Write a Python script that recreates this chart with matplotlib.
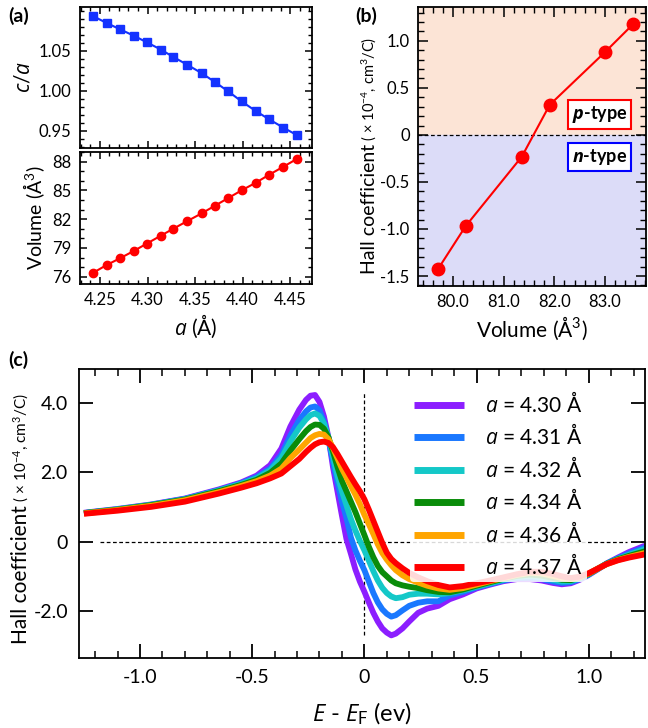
import numpy as np
import matplotlib
matplotlib.use("Agg")
import matplotlib.pyplot as plt
from matplotlib.ticker import MultipleLocator, FixedLocator

plt.rcParams['font.family'] = ['Lato', 'DejaVu Sans']
plt.rcParams['mathtext.fontset'] = 'custom'
plt.rcParams['mathtext.rm'] = 'Lato'
plt.rcParams['mathtext.it'] = 'Open Sans:italic'
plt.rcParams['mathtext.bf'] = 'Open Sans:italic:bold'
plt.rcParams['axes.linewidth'] = 1.3

# ---------------- data ----------------
a_vals = [4.243, 4.257, 4.271, 4.286, 4.299, 4.314, 4.327, 4.342,
          4.357, 4.371, 4.385, 4.399, 4.414, 4.428, 4.443, 4.457]
c_over_a = [1.0934, 1.0850, 1.0771, 1.0688, 1.0609, 1.0517, 1.0425, 1.0325,
            1.0221, 1.0109, 0.9992, 0.9867, 0.9746, 0.9642, 0.9538, 0.9446]
volume = [76.42, 77.22, 77.92, 78.71, 79.44, 80.28, 81.00, 81.81,
          82.61, 83.41, 84.21, 85.01, 85.81, 86.64, 87.48, 88.28]
volume_ticks = [76, 79, 82, 85, 88]

vol_b = [79.70, 80.25, 81.36, 81.91, 83.00, 83.56]
hall_b = [-1.43, -0.97, -0.23, 0.32, 0.88, 1.18]

energy = [-1.25, -1.1, -0.95, -0.8, -0.65, -0.55, -0.48, -0.42, -0.37, -0.33,
          -0.29, -0.26, -0.24, -0.22, -0.20, -0.18, -0.16, -0.14, -0.12, -0.10,
          -0.08, -0.06, -0.04, -0.02, 0.0, 0.02, 0.04, 0.06, 0.08, 0.10,
          0.12, 0.14, 0.17, 0.20, 0.24, 0.28, 0.33, 0.38, 0.44, 0.50,
          0.56, 0.62, 0.68, 0.74, 0.79, 0.84, 0.88, 0.92, 0.96, 1.00,
          1.04, 1.08, 1.13, 1.18, 1.25]

hall_430 = [0.83, 0.94, 1.07, 1.24, 1.50, 1.70, 1.90, 2.20, 2.68, 3.31,
            3.80, 4.08, 4.20, 4.22, 4.02, 3.60, 3.00, 2.15, 1.45, 0.75,
            0.08, -0.35, -0.80, -1.15, -1.44, -1.75, -2.05, -2.30, -2.50, -2.62,
            -2.70, -2.65, -2.50, -2.30, -2.05, -1.93, -1.85, -1.66, -1.52, -1.35,
            -1.24, -1.14, -1.08, -1.08, -1.12, -1.19, -1.23, -1.20, -1.10, -0.96,
            -0.80, -0.63, -0.46, -0.30, -0.12]
hall_431 = [0.82, 0.93, 1.06, 1.23, 1.48, 1.68, 1.86, 2.10, 2.50, 3.05,
            3.50, 3.75, 3.86, 3.89, 3.78, 3.45, 2.95, 2.30, 1.70, 1.15,
            0.68, 0.12, -0.25, -0.55, -0.82, -1.15, -1.48, -1.75, -1.95, -2.08,
            -2.16, -2.12, -1.98, -1.85, -1.76, -1.72, -1.72, -1.55, -1.45, -1.32,
            -1.22, -1.12, -1.05, -1.04, -1.08, -1.15, -1.19, -1.17, -1.08, -0.95,
            -0.79, -0.63, -0.48, -0.34, -0.17]
hall_432 = [0.82, 0.93, 1.06, 1.22, 1.47, 1.66, 1.82, 2.05, 2.40, 2.88,
            3.28, 3.52, 3.64, 3.69, 3.62, 3.40, 3.00, 2.45, 1.90, 1.45,
            1.05, 0.65, 0.32, 0.02, -0.25, -0.55, -0.85, -1.12, -1.33, -1.48,
            -1.58, -1.63, -1.60, -1.53, -1.50, -1.50, -1.52, -1.48, -1.40, -1.30,
            -1.20, -1.10, -1.02, -0.99, -1.03, -1.10, -1.15, -1.14, -1.06, -0.94,
            -0.79, -0.64, -0.50, -0.38, -0.22]
hall_434 = [0.82, 0.92, 1.05, 1.21, 1.45, 1.63, 1.78, 1.98, 2.25, 2.62,
            2.95, 3.18, 3.30, 3.37, 3.36, 3.25, 3.00, 2.60, 2.15, 1.75,
            1.45, 1.15, 0.85, 0.52, 0.19, -0.15, -0.45, -0.70, -0.88, -1.00,
            -1.12, -1.20, -1.26, -1.30, -1.34, -1.40, -1.45, -1.46, -1.38, -1.27,
            -1.17, -1.07, -0.99, -0.95, -0.98, -1.05, -1.10, -1.11, -1.04, -0.93,
            -0.78, -0.64, -0.51, -0.41, -0.28]
hall_436 = [0.81, 0.91, 1.03, 1.19, 1.42, 1.60, 1.74, 1.90, 2.10, 2.40,
            2.65, 2.85, 2.98, 3.06, 3.10, 3.08, 2.95, 2.70, 2.40, 2.10,
            1.85, 1.60, 1.35, 1.08, 0.77, 0.50, 0.22, -0.08, -0.33, -0.52,
            -0.68, -0.82, -0.97, -1.08, -1.18, -1.27, -1.35, -1.39, -1.34, -1.24,
            -1.14, -1.05, -0.96, -0.90, -0.92, -0.99, -1.05, -1.08, -1.03, -0.92,
            -0.78, -0.65, -0.53, -0.44, -0.33]
hall_437 = [0.80, 0.89, 1.00, 1.15, 1.38, 1.55, 1.68, 1.82, 1.96, 2.17,
            2.38, 2.58, 2.70, 2.80, 2.86, 2.88, 2.84, 2.72, 2.52, 2.30,
            2.08, 1.86, 1.65, 1.45, 1.22, 0.92, 0.60, 0.28, -0.04, -0.32,
            -0.50, -0.62, -0.77, -0.90, -1.03, -1.14, -1.25, -1.32, -1.28, -1.20,
            -1.12, -1.03, -0.94, -0.87, -0.87, -0.93, -1.00, -1.05, -1.01, -0.91,
            -0.78, -0.65, -0.54, -0.46, -0.37]

series_labels = ['4.30', '4.31', '4.32', '4.34', '4.36', '4.37']
series_colors = ['#8c1eff', '#1a78ff', '#14c8c8', '#0a8c0a', '#ffa500', '#ff0000']
series_data = [hall_430, hall_431, hall_432, hall_434, hall_436, hall_437]

# ---------------- figure ----------------
W, H = 648, 728
fig = plt.figure(figsize=(W / 100, H / 100), dpi=100)

def axes_px(l, t, r, b):
    return fig.add_axes([l / W, 1 - b / H, (r - l) / W, (b - t) / H])

def style(ax, major, minor):
    ax.tick_params(which='both', direction='in', top=True, right=True, labelsize=12)
    ax.tick_params(which='major', length=major, width=1.1, pad=6)
    ax.tick_params(which='minor', length=minor, width=1.0)

fmt = matplotlib.ticker.FormatStrFormatter
zero_fmt = matplotlib.ticker.FuncFormatter(lambda v, p: '0' if abs(v) < 1e-9 else '%.1f' % v)

# panel (a) top
ax1 = axes_px(80, 7, 312, 147.5)
ax1.plot(a_vals, c_over_a, '-', color='#1432ff', lw=1.5, marker='s', ms=6.2)
ax1.set_xlim(4.229, 4.473)
ax1.set_ylim(0.929, 1.105)
ax1.xaxis.set_major_locator(MultipleLocator(0.05))
ax1.xaxis.set_minor_locator(MultipleLocator(0.01))
ax1.yaxis.set_major_locator(FixedLocator([0.95, 1.00, 1.05]))
ax1.yaxis.set_minor_locator(MultipleLocator(0.01))
ax1.yaxis.set_major_formatter(fmt('%.2f'))
style(ax1, 5, 3)
ax1.tick_params(labelbottom=False)
ax1.set_ylabel(r'$c/a$', fontsize=15, labelpad=4)

# panel (a) bottom
ax2 = axes_px(80, 151.5, 312, 284)
ax2.plot(a_vals, volume, '-', color='#ff0000', lw=1.5, marker='o', ms=6)
ax2.set_xlim(4.229, 4.473)
ax2.set_ylim(75.24, 89.06)
ax2.xaxis.set_major_locator(MultipleLocator(0.05))
ax2.xaxis.set_minor_locator(MultipleLocator(0.01))
ax2.yaxis.set_major_locator(FixedLocator(volume_ticks))
ax2.yaxis.set_minor_locator(MultipleLocator(1))
ax2.xaxis.set_major_formatter(fmt('%.2f'))
style(ax2, 5, 3)
ax2.set_ylabel('Volume (Å$^{3}$)', fontsize=14, labelpad=4)
ax2.set_xlabel(r'$a$ (Å)', fontsize=15, labelpad=3)

# panel (b)
ax3 = axes_px(418, 7, 646, 286)
ax3.set_xlim(79.31, 83.81)
ax3.set_ylim(-1.606, 1.36)
ax3.axhspan(0, 1.36, color='#fce4d6', zorder=0)
ax3.axhspan(-1.606, 0, color='#dcdcf8', zorder=0)
ax3.axhline(0, color='black', lw=0.9, ls=(0, (3, 2)), zorder=1)
ax3.plot(vol_b, hall_b, '-', color='#ff0000', lw=1.5, marker='o', ms=9, zorder=3)
ax3.xaxis.set_major_locator(MultipleLocator(1.0))
ax3.xaxis.set_minor_locator(MultipleLocator(0.2))
ax3.yaxis.set_major_locator(MultipleLocator(0.5))
ax3.yaxis.set_minor_locator(MultipleLocator(0.1))
ax3.xaxis.set_major_formatter(fmt('%.1f'))
ax3.yaxis.set_major_formatter(zero_fmt)
style(ax3, 7, 4)
ax3.set_xlabel('Volume (Å$^{3}$)', fontsize=15, labelpad=3)
ax3.text(0.795, 0.616, r'$\mathbf{p}$-type', transform=ax3.transAxes, ha='center', va='center',
         fontsize=13, fontweight='bold',
         bbox=dict(boxstyle='square,pad=0.22', fc='white', ec='#ff0000', lw=1.5), zorder=5)
ax3.text(0.795, 0.462, r'$\mathbf{n}$-type', transform=ax3.transAxes, ha='center', va='center',
         fontsize=13, fontweight='bold',
         bbox=dict(boxstyle='square,pad=0.22', fc='white', ec='#0000ff', lw=1.5), zorder=5)

# panel (c)
ax4 = axes_px(79, 369.3, 645, 658.3)
ax4.set_xlim(-1.272, 1.251)
ax4.set_ylim(-3.36, 4.96)
ax4.plot([-1.18, 1.17], [0, 0], color='black', lw=0.9, ls=(0, (3, 2)), zorder=1)
ax4.plot([0, 0], [-2.69, 4.27], color='black', lw=0.9, ls=(0, (3, 2)), zorder=1)
for lab, col, dat in zip(series_labels, series_colors, series_data):
    ax4.plot(energy, dat, '-', color=col, lw=4.2, solid_capstyle='butt',
             solid_joinstyle='round', label=r'$a$ = %s Å' % lab, zorder=2)
ax4.xaxis.set_major_locator(MultipleLocator(0.5))
ax4.xaxis.set_minor_locator(MultipleLocator(0.1))
ax4.yaxis.set_major_locator(MultipleLocator(2.0))
ax4.xaxis.set_major_formatter(zero_fmt)
ax4.yaxis.set_major_formatter(zero_fmt)
ax4.tick_params(which='both', direction='in', top=True, right=True, labelsize=14)
ax4.tick_params(which='major', length=10, width=1.3, pad=8)
ax4.tick_params(which='minor', length=5, width=1.1)
ax4.set_xlabel(r'$E$ - $E_{\rm F}$ (ev)', fontsize=17, labelpad=10)
leg = ax4.legend(loc='upper left', bbox_to_anchor=(0.585, 0.94), fontsize=15,
                 handlelength=2.4, handletextpad=1.0, labelspacing=0.36,
                 frameon=True, facecolor='white', edgecolor='none', framealpha=0.85,
                 borderpad=0.2, borderaxespad=0)
for lh in leg.get_lines():
    lh.set_linewidth(5)

# stacked y-labels with two sizes
def stacked_ylabel(x_px, yc_px, s1, f1, s2, f2):
    t1 = fig.text(x_px / W, 0.5, s1, rotation=90, ha='right', va='bottom', fontsize=f1)
    t2 = fig.text(x_px / W, 0.5, s2, rotation=90, ha='right', va='bottom', fontsize=f2)
    r = fig.canvas.get_renderer()
    h1 = t1.get_window_extent(r).height / fig.bbox.height
    h2 = t2.get_window_extent(r).height / fig.bbox.height
    y0 = (1 - yc_px / H) - (h1 + h2) / 2
    t1.set_y(y0)
    t2.set_y(y0 + h1)

stacked_ylabel(378, 155, 'Hall coefficient', 14, ' ( × 10$^{-4}$, cm$^{3}$/C)', 10.5)
stacked_ylabel(31, 519, 'Hall coefficient', 15, ' ( × 10$^{-4}$, cm$^{3}$/C)', 11)

# panel letters
fig.text(8 / W, 1 - 16 / H, '(a)', fontsize=14, fontweight='bold', va='center')
fig.text(355 / W, 1 - 16 / H, '(b)', fontsize=14, fontweight='bold', va='center')
fig.text(8 / W, 1 - 360 / H, '(c)', fontsize=14, fontweight='bold', va='center')

fig.savefig('out.png', dpi=100)
